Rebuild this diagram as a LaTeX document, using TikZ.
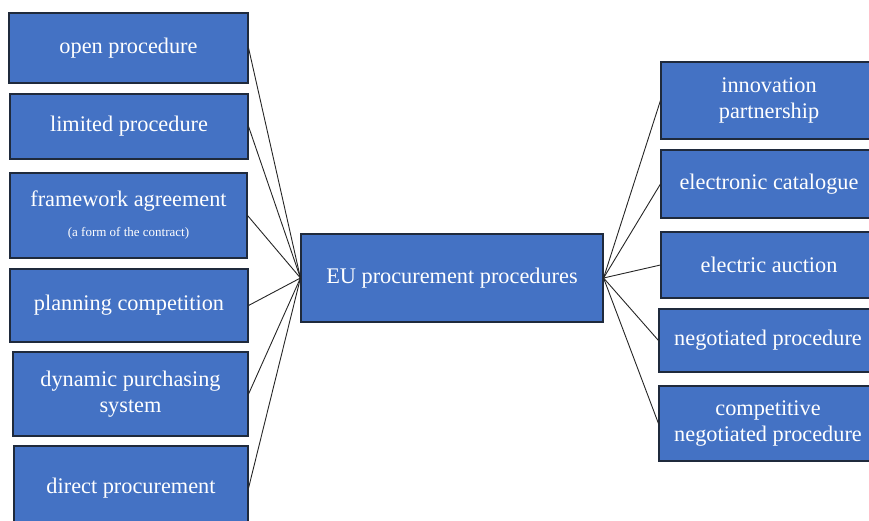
\documentclass[tikz,border=0pt]{standalone}
\usepackage{fontspec}
\setmainfont{Liberation Serif}
\definecolor{boxblue}{HTML}{4472C4}
\definecolor{boxedge}{HTML}{1F2A3C}
\begin{document}
\begin{tikzpicture}[x=1pt,y=-1pt,
  box/.style={draw=boxedge, line width=1.1pt, fill=boxblue, text=white,
    inner sep=0pt, align=center, font=\fontsize{22.3}{26}\selectfont},
  link/.style={draw=black!85, line width=0.9pt}]
\useasboundingbox (0,0) rectangle (869,521);
\clip (0,0) rectangle (869,521);

% left-hand procedures
\node[box, minimum width=239, minimum height=70] (open) at (128.5,48) {open procedure};
\node[box, minimum width=238, minimum height=65] (limited) at (129,126.5) {limited procedure};
\node[box, minimum width=237, minimum height=85] (frame) at (128.5,215.5)
  {framework agreement\\[4pt]{\fontsize{13}{15}\selectfont (a form of the contract)}};
\node[box, minimum width=238, minimum height=73] (planning) at (129,305.5) {planning competition};
\node[box, minimum width=235, minimum height=84] (dynamic) at (130.5,394) {dynamic purchasing\\system};
\node[box, minimum width=234, minimum height=84] (direct) at (131,488) {direct procurement};

% central node
\node[box, minimum width=302, minimum height=88] (eu) at (452,278) {EU procurement procedures};

% right-hand procedures
\node[box, minimum width=216, minimum height=77] (innov) at (769,100.5) {innovation\\partnership};
\node[box, minimum width=216, minimum height=68] (ecat) at (769,184) {electronic catalogue};
\node[box, minimum width=216, minimum height=66] (eauc) at (769,265) {electric auction};
\node[box, minimum width=218, minimum height=63] (nego) at (768,340.5) {negotiated procedure};
\node[box, minimum width=218, minimum height=75] (comp) at (768,423.5) {competitive\\negotiated procedure};

% connectors
\foreach \n in {open,limited,frame,planning,dynamic,direct}
  \draw[link] (\n.east) -- (eu.west);
\foreach \n in {innov,ecat,eauc,nego,comp}
  \draw[link] (eu.east) -- (\n.west);
\end{tikzpicture}
\end{document}
